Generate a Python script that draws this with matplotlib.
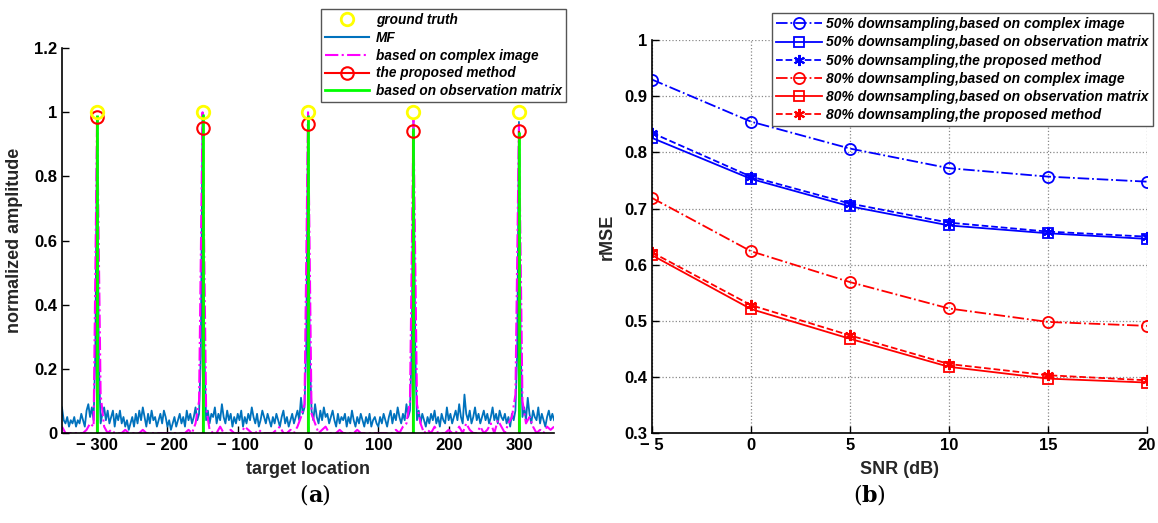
import numpy as np
import matplotlib
matplotlib.use('Agg')
import matplotlib.pyplot as plt
from matplotlib.lines import Line2D

plt.rcParams['font.family'] = ['Liberation Sans', 'DejaVu Sans']
plt.rcParams['font.weight'] = 'bold'

# ---- (a) target profile ----
targets = [-300, -150, 0, 150, 300]
truth_amp = [1, 1, 1, 1, 1]
proposed_amp = [0.985, 0.952, 0.963, 0.942, 0.941]
obs_amp = [0.99, 0.995, 0.99, 0.95, 0.94]

# MF profile, sampled every 2.5 from -350 to 350
mf_x = np.arange(-350, 350.1, 2.5)
mf_y = [
    0.08, 0.04, 0.03, 0.05, 0.02, 0.04, 0.03, 0.05, 0.02, 0.04, 0.03, 0.06, 0.04, 0.02, 0.07, 0.09, 0.05, 0.08, 0.04, 0.25,
    0.98, 0.22, 0.03, 0.06, 0.08, 0.04, 0.07, 0.03, 0.05, 0.07, 0.02, 0.06, 0.04, 0.07, 0.03, 0.05, 0.02, 0.04, 0.01, 0.03,
    0.05, 0.02, 0.06, 0.03, 0.07, 0.04, 0.08, 0.05, 0.02, 0.06, 0.03, 0.07, 0.04, 0.05, 0.02, 0.04, 0.06, 0.03, 0.07, 0.05,
    0.02, 0.04, 0.01, 0.03, 0.05, 0.02, 0.04, 0.06, 0.03, 0.05, 0.02, 0.07, 0.04, 0.06, 0.03, 0.05, 0.08, 0.04, 0.06, 0.24,
    0.99, 0.26, 0.04, 0.07, 0.03, 0.06, 0.05, 0.08, 0.03, 0.06, 0.04, 0.09, 0.05, 0.03, 0.07, 0.04, 0.06, 0.02, 0.05, 0.03,
    0.06, 0.04, 0.07, 0.02, 0.05, 0.03, 0.06, 0.04, 0.08, 0.05, 0.03, 0.06, 0.02, 0.04, 0.07, 0.05, 0.03, 0.06, 0.04, 0.02,
    0.05, 0.03, 0.06, 0.04, 0.02, 0.05, 0.07, 0.03, 0.05, 0.02, 0.04, 0.06, 0.03, 0.05, 0.07, 0.04, 0.11, 0.06, 0.08, 0.27,
    0.99, 0.24, 0.07, 0.04, 0.09, 0.05, 0.03, 0.07, 0.04, 0.08, 0.05, 0.06, 0.03, 0.05, 0.07, 0.04, 0.02, 0.06, 0.03, 0.05,
    0.04, 0.06, 0.02, 0.05, 0.03, 0.07, 0.04, 0.02, 0.05, 0.03, 0.06, 0.04, 0.02, 0.05, 0.03, 0.06, 0.02, 0.04, 0.05, 0.03,
    0.02, 0.05, 0.03, 0.06, 0.04, 0.02, 0.05, 0.07, 0.03, 0.06, 0.04, 0.08, 0.05, 0.03, 0.06, 0.04, 0.09, 0.05, 0.07, 0.26,
    0.97, 0.25, 0.04, 0.07, 0.03, 0.06, 0.04, 0.02, 0.05, 0.03, 0.06, 0.04, 0.07, 0.03, 0.05, 0.02, 0.06, 0.04, 0.03, 0.08,
    0.04, 0.06, 0.03, 0.05, 0.07, 0.04, 0.09, 0.05, 0.03, 0.12, 0.06, 0.04, 0.07, 0.03, 0.05, 0.08, 0.04, 0.06, 0.03, 0.05,
    0.07, 0.04, 0.06, 0.03, 0.05, 0.08, 0.04, 0.06, 0.03, 0.07, 0.05, 0.04, 0.06, 0.03, 0.05, 0.02, 0.06, 0.04, 0.07, 0.25,
    0.97, 0.26, 0.05, 0.08, 0.04, 0.11, 0.06, 0.03, 0.07, 0.05, 0.04, 0.08, 0.03, 0.06, 0.04, 0.02, 0.05, 0.07, 0.04, 0.06,
    0.04,
]

# complex-image profile, sampled every 5 from -350 to 350
ci_x = np.arange(-350, 350.1, 5)
ci_y = [
    0.02, 0, 0, 0, 0, 0, 0, 0.01, 0.03, 0.02,
    0.99, 0.12, 0.02, 0, 0.01, 0, 0, 0, 0.01, 0,
    0, 0, 0, 0.01, 0, 0, 0, 0, 0, 0,
    0, 0, 0, 0, 0, 0, 0.01, 0, 0.03, 0.1,
    1.0, 0.08, 0.01, 0, 0, 0.02, 0, 0, 0.01, 0,
    0, 0, 0.02, 0.01, 0, 0, 0.01, 0, 0, 0,
    0, 0.01, 0.02, 0, 0, 0.01, 0, 0.02, 0.05, 0.09,
    1.0, 0.06, 0.03, 0, 0.01, 0.02, 0, 0, 0, 0.01,
    0, 0, 0, 0, 0.01, 0, 0, 0, 0, 0,
    0, 0, 0, 0, 0, 0.01, 0, 0.02, 0.03, 0.1,
    0.975, 0.09, 0.03, 0, 0.01, 0, 0.02, 0, 0, 0,
    0.01, 0, 0, 0.02, 0, 0.03, 0.01, 0, 0, 0.02,
    0, 0.01, 0.03, 0, 0.04, 0.02, 0, 0.03, 0.05, 0.12,
    0.965, 0.1, 0.03, 0.05, 0.02, 0, 0.01, 0, 0.02, 0.01,
    0.02,
]

# ---- (b) rMSE vs SNR ----
snr = [-5, 0, 5, 10, 15, 20]
r50_complex = [0.930, 0.855, 0.807, 0.772, 0.757, 0.748]
r50_obs = [0.826, 0.753, 0.704, 0.670, 0.656, 0.646]
r50_prop = [0.835, 0.757, 0.709, 0.675, 0.659, 0.650]
r80_complex = [0.719, 0.624, 0.569, 0.522, 0.498, 0.491]
r80_obs = [0.617, 0.521, 0.468, 0.418, 0.397, 0.390]
r80_prop = [0.622, 0.528, 0.474, 0.423, 0.403, 0.394]

fig = plt.figure(figsize=(11.58, 5.23), dpi=100)
tick_fs = 12
lab_fs = 13

# ---------- left ----------
ax1 = fig.add_axes([0.0535, 0.172, 0.425, 0.736])
mf_col = '#0072BD'
ax1.plot(mf_x, mf_y, color=mf_col, lw=1.3)
ax1.plot(ci_x, ci_y, color='magenta', lw=1.5, ls='-.')
ax1.vlines(targets, 0, proposed_amp, color='red', lw=1.5)
ax1.vlines(targets, 0, obs_amp, color='#00FF00', lw=2)
ax1.plot(targets, proposed_amp, 'o', ms=9, mfc='none', mec='red', mew=1.5)
ax1.plot(targets, truth_amp, 'o', ms=9, mfc='none', mec='yellow', mew=2, zorder=5, clip_on=False)

ax1.set_xlim(-350, 350)
ax1.set_ylim(0, 1.2)
ax1.set_xticks([-300, -200, -100, 0, 100, 200, 300])
ax1.set_xticklabels(['\u2212 300', '\u2212 200', '\u2212 100', '0', '100', '200', '300'])
ax1.set_yticks([0, 0.2, 0.4, 0.6, 0.8, 1.0, 1.2])
ax1.set_yticklabels(['0', '0.2', '0.4', '0.6', '0.8', '1', '1.2'])
ax1.tick_params(labelsize=tick_fs, direction='in', length=5, width=1)
ax1.spines['top'].set_visible(False)
ax1.spines['right'].set_visible(False)
for s in ['left', 'bottom']:
    ax1.spines[s].set_linewidth(1.2)
    ax1.spines[s].set_zorder(6)
ax1.set_xlabel('target location', fontsize=lab_fs, fontweight='bold', color='#262626', labelpad=6)
ax1.set_ylabel('normalized amplitude', fontsize=lab_fs, fontweight='bold', color='#262626', labelpad=8)

h1 = [
    Line2D([], [], ls='none', marker='o', ms=9, mfc='none', mec='yellow', mew=2),
    Line2D([], [], color=mf_col, lw=1.5),
    Line2D([], [], color='magenta', lw=1.5, ls='-.'),
    Line2D([], [], color='red', lw=1.5, marker='o', ms=9, mfc='none', mew=1.5),
    Line2D([], [], color='#00FF00', lw=2),
]
l1 = ['ground truth', 'MF', 'based on complex image', 'the proposed method', 'based on observation matrix']
leg1 = fig.legend(h1, l1, loc='upper left', bbox_to_anchor=(0.2775, 0.983), fancybox=False,
                  edgecolor='#555555', framealpha=1, numpoints=1, handlelength=3.2,
                  borderpad=0.3, labelspacing=0.28, handletextpad=0.5, borderaxespad=0,
                  prop={'size': 9.8, 'weight': 'bold', 'style': 'italic'})
leg1.get_frame().set_linewidth(1)

fig.text(0.266, 0.052, '(', fontsize=16, family='DejaVu Serif', fontweight='normal', ha='right', va='center')
fig.text(0.266, 0.052, 'a', fontsize=16, family='DejaVu Serif', fontweight='bold', ha='left', va='center')
fig.text(0.266 + 0.0115, 0.052, ')', fontsize=16, family='DejaVu Serif', fontweight='normal', ha='left', va='center')

# ---------- right ----------
ax2 = fig.add_axes([0.563, 0.172, 0.4275, 0.751])
ms = 8
star = (6, 2, 0)
ax2.plot(snr, r50_complex, color='blue', ls='-.', lw=1.3, marker='o', ms=ms, mfc='none', mew=1.3,
         label='50% downsampling,based on complex image')
ax2.plot(snr, r50_obs, color='blue', ls='-', lw=1.3, marker='s', ms=ms - 1, mfc='none', mew=1.3,
         label='50% downsampling,based on observation matrix')
ax2.plot(snr, r50_prop, color='blue', ls='--', lw=1.3, marker=star, ms=ms, mew=1.5,
         label='50% downsampling,the proposed method')
ax2.plot(snr, r80_complex, color='red', ls='-.', lw=1.3, marker='o', ms=ms, mfc='none', mew=1.3,
         label='80% downsampling,based on complex image')
ax2.plot(snr, r80_obs, color='red', ls='-', lw=1.3, marker='s', ms=ms - 1, mfc='none', mew=1.3,
         label='80% downsampling,based on observation matrix')
ax2.plot(snr, r80_prop, color='red', ls='--', lw=1.3, marker=star, ms=ms, mew=1.5,
         label='80% downsampling,the proposed method')

ax2.set_xlim(-5, 20)
ax2.set_ylim(0.3, 1.0)
ax2.set_xticks(snr)
ax2.set_xticklabels(['\u2212 5', '0', '5', '10', '15', '20'])
ax2.set_yticks([0.3, 0.4, 0.5, 0.6, 0.7, 0.8, 0.9, 1.0])
ax2.set_yticklabels(['0.3', '0.4', '0.5', '0.6', '0.7', '0.8', '0.9', '1'])
ax2.tick_params(labelsize=tick_fs, direction='in', length=5, width=1)
ax2.grid(True, ls=':', color='#888888', lw=0.9)
ax2.spines['top'].set_visible(False)
ax2.spines['right'].set_visible(False)
for s in ['left', 'bottom']:
    ax2.spines[s].set_linewidth(1.2)
ax2.set_xlabel('SNR (dB)', fontsize=lab_fs, fontweight='bold', color='#262626', labelpad=6)
ax2.set_ylabel('rMSE', fontsize=lab_fs, fontweight='bold', color='#262626', labelpad=6)

leg2 = fig.legend(*ax2.get_legend_handles_labels(), loc='upper left', bbox_to_anchor=(0.6665, 0.975),
                  fancybox=False, edgecolor='#555555', framealpha=1, handlelength=3.3,
                  borderpad=0.3, labelspacing=0.3, handletextpad=0.3, borderaxespad=0,
                  prop={'size': 10, 'weight': 'bold', 'style': 'italic'})
leg2.get_frame().set_linewidth(1)

fig.text(0.744, 0.052, '(', fontsize=16, family='DejaVu Serif', fontweight='normal', ha='right', va='center')
fig.text(0.744, 0.052, 'b', fontsize=16, family='DejaVu Serif', fontweight='bold', ha='left', va='center')
fig.text(0.744 + 0.0125, 0.052, ')', fontsize=16, family='DejaVu Serif', fontweight='normal', ha='left', va='center')

fig.savefig('out.png', dpi=100)
